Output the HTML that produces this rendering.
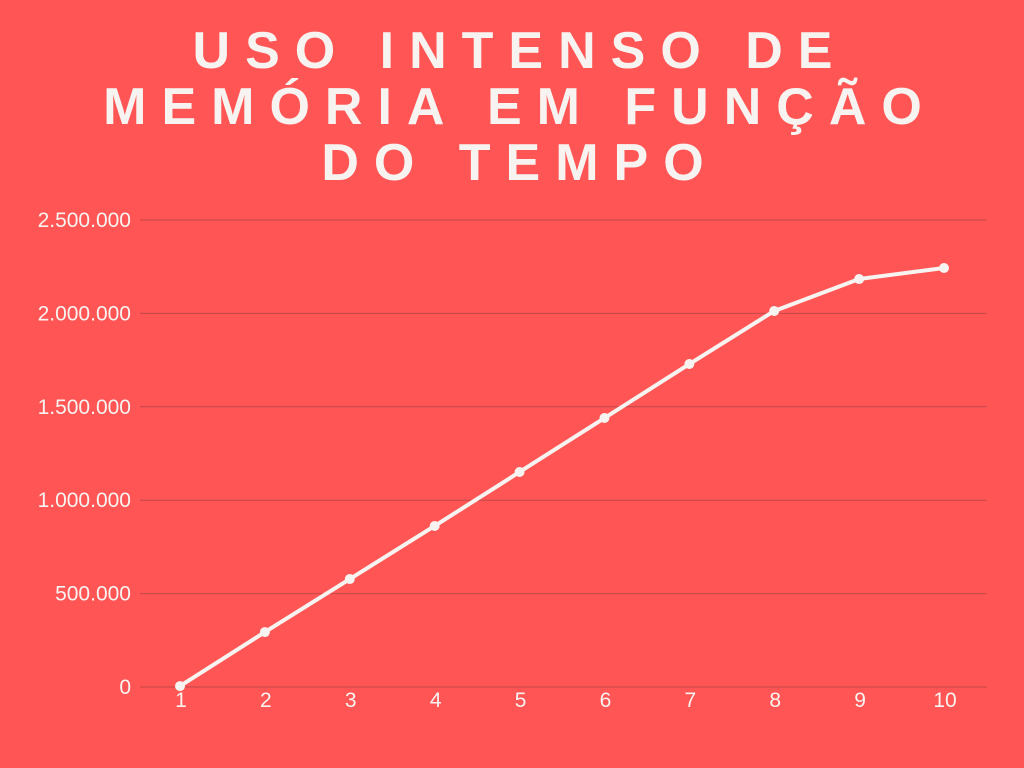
<!DOCTYPE html>
<html><head><meta charset="utf-8"><style>
html,body{margin:0;padding:0;width:1024px;height:768px;background:#ff5555;overflow:hidden}
.t{position:absolute;left:8px;width:1024px;text-align:center;color:#f7f3f0;font:bold 52px "Liberation Sans",sans-serif;letter-spacing:15px;line-height:56px}
</style></head><body>
<div class="t" style="top:23px">USO INTENSO DE<br>MEMÓRIA EM FUNÇÃO<br>DO TEMPO</div>
<svg id="c" width="1024" height="768" style="position:absolute;left:0;top:0"></svg>
<script>
const categories=["1","2","3","4","5","6","7","8","9","10"];
const values=[5000,294000,578000,862000,1151000,1440000,1729000,2013000,2184000,2243000];
const yTicks=[0,500000,1000000,1500000,2000000,2500000];
const yTickLabels=["0","500.000","1.000.000","1.500.000","2.000.000","2.500.000"];
const svg=document.getElementById('c');const NS='http://www.w3.org/2000/svg';
const y=v=>687-v/2500000*467;const x=i=>180+i*(944-180)/9;
function mk(t,a,p){const e=document.createElementNS(NS,t);for(const k in a)e.setAttribute(k,a[k]);(p||svg).appendChild(e);return e;}
yTicks.forEach((v,i)=>{
const l=mk('line',{x1:140,x2:987,y1:y(v),y2:y(v),stroke:'#c04848','stroke-width':1});


const t=mk('text',{x:131,y:y(v)+7,'text-anchor':'end',fill:'#f7f3f0','font-size':21,'font-family':'Liberation Sans, sans-serif'});
t.textContent=yTickLabels[i];


});
categories.forEach((c,i)=>{
const t=mk('text',{x:x(i)+1,y:707,'text-anchor':'middle',fill:'#f7f3f0','font-size':21,'font-family':'Liberation Sans, sans-serif'});
t.textContent=c;


});
const p=mk('polyline',{points:values.map((v,i)=>x(i)+','+y(v)).join(' '),fill:'none',stroke:'#f7f3f0','stroke-width':4,'stroke-linejoin':'round'});


values.forEach((v,i)=>{
const d=mk('circle',{cx:x(i),cy:y(v),r:5,fill:'#f7f3f0'});


});
</script>
</body></html>
